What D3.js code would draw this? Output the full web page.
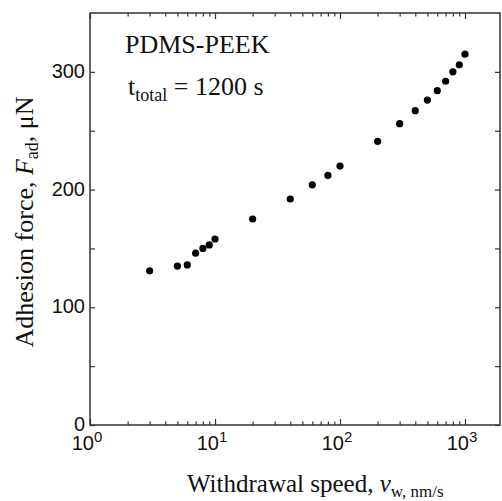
<!DOCTYPE html>
<html>
<head>
<meta charset="utf-8">
<script src="https://cdn.jsdelivr.net/npm/d3@7/dist/d3.min.js"></script>
<style>
  body { margin: 0; background: #fff; }
</style>
</head>
<body>
<div id="chart"></div>
<script>
// Withdrawal speed (nm/s) and adhesion force (uN).
var speeds = [3, 5, 6, 7, 8, 9, 10, 20, 40, 60, 80, 100, 200, 300, 400, 500, 600, 700, 800, 900, 1000];
var forces = [131, 135, 136, 146, 150, 153, 158, 175, 192, 204, 212, 220, 241, 256, 267, 276, 284, 292, 300, 306, 315];

// Axis ticks.
var decadeTicks = [1, 10, 100, 1000];
var forceTicks = [0, 100, 200, 300];
var forceMinorTicks = [50, 150, 250];
var xMax = 1905, yMax = 350;

var width = 502, height = 501;
var margin = {top: 13, left: 90, bottom: 76, right: 2};

var svg = d3.select("#chart").append("svg")
    .attr("width", width)
    .attr("height", height);

var x = d3.scaleLog().domain([1, xMax]).range([margin.left, width - margin.right]);
var y = d3.scaleLinear().domain([0, yMax]).range([height - margin.bottom, margin.top]);

// Minor ticks for the log axis: 2..9 in each decade.
var minorX = [];
decadeTicks.forEach(function (d) {
    for (var k = 2; k <= 9; k++) {
        if (d * k <= xMax) minorX.push(d * k);
    }
});
var isDecade = function (v) { return decadeTicks.indexOf(v) >= 0; };

var axisColor = "#333";
var tickFont = "'Liberation Sans', Arial, sans-serif";
var serifFont = "'Liberation Serif', 'Times New Roman', serif";

function styleAxis(g) {
    g.select(".domain").remove();
    g.selectAll(".tick line").attr("stroke", axisColor).attr("stroke-width", 1.2);
    g.selectAll(".tick text").remove();
}

// Bottom and top axes (ticks pointing inward).
var xTickVals = decadeTicks.concat(minorX);
svg.append("g")
    .attr("transform", "translate(0," + y(0) + ")")
    .call(d3.axisBottom(x).tickValues(xTickVals).tickSizeInner(-6).tickSizeOuter(0))
    .call(styleAxis)
    .selectAll(".tick line")
    .attr("y2", function (d) { return isDecade(d) ? -6 : -3.5; });

svg.append("g")
    .attr("transform", "translate(0," + y(yMax) + ")")
    .call(d3.axisTop(x).tickValues(xTickVals).tickSizeInner(-6).tickSizeOuter(0))
    .call(styleAxis)
    .selectAll(".tick line")
    .attr("y2", function (d) { return isDecade(d) ? 6 : 3.5; });

// Left and right axes.
var yTickVals = forceTicks.concat(forceMinorTicks);
svg.append("g")
    .attr("transform", "translate(" + x(1) + ",0)")
    .call(d3.axisLeft(y).tickValues(yTickVals).tickSizeInner(-5).tickSizeOuter(0))
    .call(styleAxis);

svg.append("g")
    .attr("transform", "translate(" + x(xMax) + ",0)")
    .call(d3.axisRight(y).tickValues(yTickVals).tickSizeInner(-5).tickSizeOuter(0))
    .call(styleAxis);

// Frame.
svg.append("rect")
    .attr("x", x(1))
    .attr("y", y(yMax))
    .attr("width", x(xMax) - x(1))
    .attr("height", y(0) - y(yMax))
    .attr("fill", "none")
    .attr("stroke", axisColor)
    .attr("stroke-width", 1.5);

// Y tick labels.
svg.append("g").selectAll("text")
    .data(forceTicks)
    .enter().append("text")
    .attr("x", x(1) - 5)
    .attr("y", function (d) { return y(d) + 6; })
    .attr("text-anchor", "end")
    .attr("font-family", tickFont)
    .attr("font-size", 20)
    .attr("fill", "#111")
    .text(function (d) { return d; });

// X tick labels as 10^n.
var xLabels = svg.append("g").selectAll("text")
    .data(decadeTicks)
    .enter().append("text")
    .attr("x", function (d) { return x(d) - 3; })
    .attr("y", y(0) + 25)
    .attr("text-anchor", "middle")
    .attr("font-family", tickFont)
    .attr("font-size", 20)
    .attr("fill", "#111");
xLabels.append("tspan").text("10");
xLabels.append("tspan")
    .attr("dy", -8)
    .attr("font-size", 15)
    .text(function (d) { return Math.round(Math.log10(d)); });

// Data points.
svg.append("g").selectAll("circle")
    .data(speeds)
    .enter().append("circle")
    .attr("cx", function (d) { return x(d); })
    .attr("cy", function (d, i) { return y(forces[i]); })
    .attr("r", 3.6)
    .attr("fill", "#000");

// Annotations.
svg.append("text")
    .attr("x", 125)
    .attr("y", 53)
    .attr("font-family", serifFont)
    .attr("font-size", 26)
    .attr("fill", "#111")
    .text("PDMS-PEEK");

var tt = svg.append("text")
    .attr("x", 128)
    .attr("y", 95)
    .attr("font-family", serifFont)
    .attr("font-size", 26)
    .attr("fill", "#111");
tt.append("tspan").text("t");
tt.append("tspan").attr("dy", 6).attr("font-size", 18).text("total");
tt.append("tspan").attr("dy", -6).text(" = 1200 s");

// Axis titles.
var xt = svg.append("text")
    .attr("x", 187)
    .attr("y", 492)
    .attr("font-family", serifFont)
    .attr("font-size", 25)
    .attr("fill", "#111");
xt.append("tspan").text("Withdrawal speed, ");
xt.append("tspan").attr("font-style", "italic").text("v");
xt.append("tspan").attr("dy", 5).attr("font-size", 17).text("w, nm/s");

var yt = svg.append("text")
    .attr("transform", "translate(33," + 222 + ") rotate(-90)")
    .attr("text-anchor", "middle")
    .attr("font-family", serifFont)
    .attr("font-size", 26)
    .attr("fill", "#111");
yt.append("tspan").text("Adhesion force, ");
yt.append("tspan").attr("font-style", "italic").text("F");
yt.append("tspan").attr("dy", 5).attr("font-size", 18).text("ad");
yt.append("tspan").attr("dy", -5).text(", μN");
</script>
</body>
</html>
